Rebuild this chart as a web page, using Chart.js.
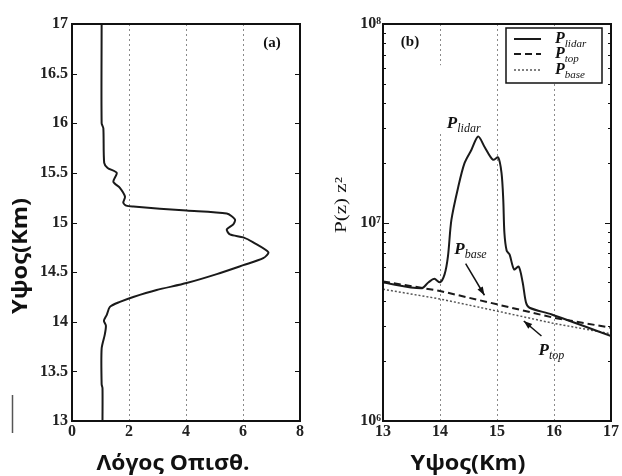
<!DOCTYPE html>
<html>
<head>
<meta charset="utf-8">
<script src="https://cdn.jsdelivr.net/npm/chart.js@4.4.1/dist/chart.umd.min.js"></script>
<style>
  body { margin: 0; background: #fff; width: 622px; height: 476px; position: relative; overflow: hidden; }
  canvas { position: absolute; top: 0; }
  #chartA { left: 0; }
  #chartB { left: 311px; }
</style>
</head>
<body>
<canvas id="chartA" width="311" height="476"></canvas>
<canvas id="chartB" width="311" height="476"></canvas>
<script>
// (a) backscatter ratio profile
const altitudeA = [17, 16.0, 15.95, 15.6, 15.55, 15.5, 15.41, 15.35, 15.26, 15.2, 15.17, 15.16, 15.12, 15.09, 15.03, 14.98, 14.93, 14.88, 14.85, 14.8, 14.7, 14.64, 14.57, 14.48, 14.39, 14.32, 14.25, 14.2, 14.15, 14.07, 14.01, 13.96, 13.87, 13.73, 13.37, 13.33, 13.0];
const ratioA = [1.04, 1.04, 1.1, 1.13, 1.25, 1.57, 1.45, 1.68, 1.86, 1.8, 1.9, 2.15, 4.02, 5.43, 5.72, 5.66, 5.43, 5.54, 6.01, 6.36, 6.89, 6.71, 6.01, 5.08, 4.02, 2.97, 2.15, 1.68, 1.33, 1.22, 1.12, 1.19, 1.15, 1.04, 1.04, 1.07, 1.07];
const ticksA_x = [0, 2, 4, 6, 8];
const ticksA_y = [13, 13.5, 14, 14.5, 15, 15.5, 16, 16.5, 17];

// (b) range corrected signal
const altitudeB = [13, 13.67, 13.8, 13.9, 14.0, 14.08, 14.14, 14.2, 14.32, 14.43, 14.55, 14.67, 14.78, 14.93, 15.02, 15.08, 15.11, 15.13, 15.17, 15.22, 15.3, 15.38, 15.45, 15.51, 15.57, 15.96, 17];
const pLidar = [4.98e6, 4.66e6, 5.0e6, 5.2e6, 5.0e6, 5.48e6, 6.78e6, 1.03e7, 1.51e7, 1.99e7, 2.32e7, 2.71e7, 2.41e7, 2.07e7, 2.13e7, 1.77e7, 1.30e7, 8.85e6, 7.2e6, 6.9e6, 5.8e6, 6.0e6, 5.0e6, 3.94e6, 3.72e6, 3.44e6, 2.68e6];
const altitudeRef = [13, 14, 15, 16, 17];
const pTop = [5.05e6, 4.52e6, 3.87e6, 3.31e6, 2.95e6];
const pBase = [4.61e6, 4.12e6, 3.58e6, 3.10e6, 2.75e6];
const ticksB_x = [13, 14, 15, 16, 17];
const ticksB_y = [1e6, 2e6, 3e6, 4e6, 5e6, 6e6, 7e6, 8e6, 9e6, 1e7, 2e7, 3e7, 4e7, 5e7, 6e7, 7e7, 8e7, 9e7, 1e8];

const sup = { 6: '\u2076', 7: '\u2077', 8: '\u2078' };
const tickFont = { family: 'Liberation Serif', size: 16, weight: 'bold' };
const titleFont = 'bold 22px "Open Sans"';

function pts(xs, ys) { return xs.map((x, i) => ({ x: x, y: ys[i] })); }

function drawText(ctx, t) {
  ctx.save();
  ctx.font = t.font;
  ctx.fillStyle = t.color || '#111';
  ctx.textAlign = 'center';
  ctx.textBaseline = 'middle';
  ctx.translate(t.x, t.y);
  if (t.rot) ctx.rotate(t.rot);
  if (t.w) { const m = ctx.measureText(t.text).width; ctx.scale(t.w / m, 1); }
  ctx.fillText(t.text, 0, 0);
  ctx.restore();
}

// italic P with a subscript, left aligned at x
function drawP(ctx, sub, x, y, size) {
  ctx.save();
  ctx.fillStyle = '#111';
  ctx.textBaseline = 'alphabetic';
  ctx.textAlign = 'left';
  ctx.font = 'italic bold ' + size + 'px "Liberation Serif"';
  ctx.fillText('P', x, y);
  const w = ctx.measureText('P').width;
  ctx.font = 'italic ' + Math.round(size * 0.7) + 'px "Liberation Serif"';
  ctx.fillText(sub, x + w, y + size * 0.22);
  ctx.restore();
}

function arrow(ctx, x1, y1, x2, y2) {
  ctx.save();
  ctx.strokeStyle = '#111';
  ctx.fillStyle = '#111';
  ctx.lineWidth = 1.5;
  ctx.beginPath(); ctx.moveTo(x1, y1); ctx.lineTo(x2, y2); ctx.stroke();
  const a = Math.atan2(y2 - y1, x2 - x1);
  ctx.beginPath();
  ctx.moveTo(x2, y2);
  ctx.lineTo(x2 - 9 * Math.cos(a - 0.35), y2 - 9 * Math.sin(a - 0.35));
  ctx.lineTo(x2 - 9 * Math.cos(a + 0.35), y2 - 9 * Math.sin(a + 0.35));
  ctx.closePath(); ctx.fill();
  ctx.restore();
}

// box round the plot + ticks pointing inward + free texts
const framePlugin = {
  id: 'frame',
  afterDatasetsDraw(chart, args, opts) {
    const ctx = chart.ctx, a = chart.chartArea, ys = chart.scales.y;
    ctx.save();
    ctx.strokeStyle = '#111';
    ctx.lineWidth = 1.2;
    ys.ticks.forEach(t => {
      const py = Math.round(ys.getPixelForValue(t.value)) + 0.5;
      const len = opts.tickLen(t.value);
      ctx.beginPath();
      ctx.moveTo(a.left, py); ctx.lineTo(a.left + len, py);
      ctx.moveTo(a.right, py); ctx.lineTo(a.right - len, py);
      ctx.stroke();
    });
    ctx.lineWidth = 2;
    ctx.strokeRect(a.left, a.top, a.right - a.left, a.bottom - a.top);
    ctx.restore();
    if (opts.extra) opts.extra(chart);
  },
  afterDraw(chart, args, opts) {
    (opts.texts || []).forEach(t => drawText(chart.ctx, t));
  }
};

function gridColor(inner) {
  return c => (c.tick && inner.includes(c.tick.value)) ? '#8a8a8a' : 'rgba(0,0,0,0)';
}

function layoutFor() {
  return { padding: { left: 0, right: 11, top: 24, bottom: 0 } };
}

new Chart(document.getElementById('chartA'), {
  type: 'scatter',
  data: {
    datasets: [{
      data: pts(ratioA, altitudeA),
      showLine: true,
      borderColor: '#1a1a1a',
      borderWidth: 2,
      pointRadius: 0,
      tension: 0.25
    }]
  },
  options: {
    responsive: false,
    animation: false,
    devicePixelRatio: 1,
    layout: layoutFor(),
    plugins: {
      legend: { display: false },
      tooltip: { enabled: false },
      frame: {
        tickLen: () => 5,
        texts: [
          { text: 'Υψος(Km)', x: 21, y: 256, rot: -Math.PI / 2, w: 116, font: titleFont },
          { text: 'Λόγος Οπισθ.', x: 173, y: 464, w: 153, font: titleFont },
          { text: '(a)', x: 272, y: 43, font: 'bold 15px "Liberation Serif"' }
        ],
        extra(chart) {
          const ctx = chart.ctx;
          ctx.save();
          ctx.strokeStyle = '#555';
          ctx.lineWidth = 1.5;
          ctx.beginPath(); ctx.moveTo(12.5, 395); ctx.lineTo(12.5, 433); ctx.stroke();
          ctx.restore();
        }
      }
    },
    scales: {
      x: {
        type: 'linear', min: 0, max: 8,
        afterFit: s => { s.height = 55; },
        afterBuildTicks: s => { s.ticks = ticksA_x.map(v => ({ value: v })); },
        ticks: { font: tickFont, color: '#222', padding: 1, maxRotation: 0, callback: v => String(v) },
        grid: { color: gridColor([2, 4, 6]), lineWidth: 1, drawTicks: false },
        border: { display: false, dash: [2, 3] }
      },
      y: {
        type: 'linear', min: 13, max: 17,
        afterFit: s => { s.width = 72; },
        afterBuildTicks: s => { s.ticks = ticksA_y.map(v => ({ value: v })); },
        ticks: { font: tickFont, color: '#222', padding: 4, callback: v => String(v) },
        grid: { display: false, drawTicks: false },
        border: { display: false }
      }
    }
  },
  plugins: [framePlugin]
});

new Chart(document.getElementById('chartB'), {
  type: 'scatter',
  data: {
    datasets: [
      { label: 'P_lidar', data: pts(altitudeB, pLidar), showLine: true, borderColor: '#1a1a1a', borderWidth: 2, pointRadius: 0, tension: 0.3 },
      { label: 'P_top', data: pts(altitudeRef, pTop), showLine: true, borderColor: '#1a1a1a', borderWidth: 2, borderDash: [7, 4], pointRadius: 0 },
      { label: 'P_base', data: pts(altitudeRef, pBase), showLine: true, borderColor: '#555', borderWidth: 1.5, borderDash: [2, 2], pointRadius: 0 }
    ]
  },
  options: {
    responsive: false,
    animation: false,
    devicePixelRatio: 1,
    layout: layoutFor(),
    plugins: {
      legend: { display: false },
      tooltip: { enabled: false },
      frame: {
        tickLen: v => [1e6, 1e7, 1e8].includes(v) ? 6 : 3,
        texts: [
          { text: 'Υψος(Km)', x: 157, y: 464, w: 115, font: titleFont },
          { text: 'P(z) z\u00B2', x: 31, y: 205, rot: -Math.PI / 2, w: 56, font: '16px "Liberation Serif"' },
          { text: '(b)', x: 99, y: 42, font: 'bold 15px "Liberation Serif"' }
        ],
        extra(chart) {
          const ctx = chart.ctx, xs = chart.scales.x, ys = chart.scales.y;
          const X = v => xs.getPixelForValue(v), Y = v => ys.getPixelForValue(v);
          // white patch over the 14 km grid line, as in the scan
          ctx.save();
          ctx.fillStyle = '#fff';
          ctx.fillRect(X(14.0) - 2, Y(6.2e7), 5, Y(2.83e7) - Y(6.2e7));
          ctx.restore();
          drawP(ctx, 'lidar', X(14.12), Y(3.0e7), 17);
          drawP(ctx, 'base', X(14.25), Y(6.9e6), 17);
          arrow(ctx, X(14.45), Y(6.2e6), X(14.78), Y(4.3e6));
          drawP(ctx, 'top', X(15.73), Y(2.15e6), 17);
          arrow(ctx, X(15.78), Y(2.68e6), X(15.47), Y(3.19e6));
          // legend box
          const bx = 195, by = 28, bw = 96, bh = 55;
          ctx.save();
          ctx.fillStyle = '#fff';
          ctx.fillRect(bx, by, bw, bh);
          ctx.strokeStyle = '#111';
          ctx.lineWidth = 1.5;
          ctx.strokeRect(bx, by, bw, bh);
          chart.data.datasets.forEach((d, i) => {
            const ly = [39, 54, 70][i];
            ctx.save();
            ctx.strokeStyle = d.borderColor;
            ctx.lineWidth = d.borderWidth;
            ctx.setLineDash(d.borderDash || []);
            ctx.beginPath(); ctx.moveTo(bx + 8, ly); ctx.lineTo(bx + 35, ly); ctx.stroke();
            ctx.restore();
            drawP(ctx, d.label.split('_')[1], bx + 49, ly + 4, 16);
          });
          ctx.restore();
        }
      }
    },
    scales: {
      x: {
        type: 'linear', min: 13, max: 17,
        afterFit: s => { s.height = 55; },
        afterBuildTicks: s => { s.ticks = ticksB_x.map(v => ({ value: v })); },
        ticks: { font: tickFont, color: '#222', padding: 1, maxRotation: 0, callback: v => String(v) },
        grid: { color: gridColor([14, 15, 16]), lineWidth: 1, drawTicks: false },
        border: { display: false, dash: [2, 3] }
      },
      y: {
        type: 'logarithmic', min: 1e6, max: 1e8,
        afterFit: s => { s.width = 72; },
        afterBuildTicks: s => { s.ticks = ticksB_y.map(v => ({ value: v })); },
        ticks: {
          font: tickFont, color: '#222', padding: 2, autoSkip: false,
          callback: v => {
            const e = Math.round(Math.log10(v));
            return Math.abs(v - Math.pow(10, e)) < 1 ? '10' + sup[e] : '';
          }
        },
        grid: { display: false, drawTicks: false },
        border: { display: false }
      }
    }
  },
  plugins: [framePlugin]
});
</script>
</body>
</html>
